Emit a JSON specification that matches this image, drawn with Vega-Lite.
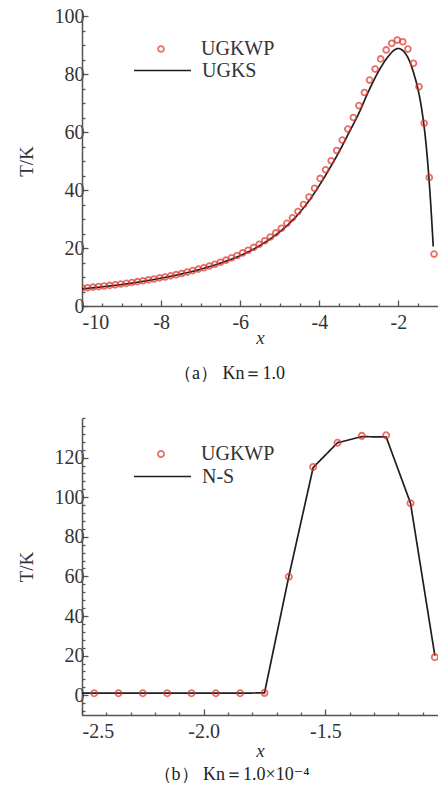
{
  "$schema": "https://vega.github.io/schema/vega-lite/v6.json",
  "padding": {"left": 17, "top": 6, "right": 0, "bottom": 0},
  "background": "white",
  "config": {
    "font": "Liberation Serif, Times New Roman, DejaVu Serif, serif",
    "view": {"stroke": null},
    "style": {
      "guide-label": {"font": "Liberation Serif, Times New Roman, DejaVu Serif, serif"},
      "guide-title": {"font": "Liberation Serif, Times New Roman, DejaVu Serif, serif"},
      "group-title": {"font": "Liberation Serif, Times New Roman, DejaVu Serif, serif"}
    },
    "axis": {
      "grid": false,
      "domainColor": "#555",
      "domainWidth": 1.5,
      "tickColor": "#555",
      "tickWidth": 1.3,
      "tickSize": -6,
      "labelFont": "Liberation Serif, Times New Roman, DejaVu Serif, serif",
      "labelFontSize": 20,
      "labelColor": "#333",
      "labelPadding": 4,
      "labelExpr": "replace(datum.label, '−', '-')",
      "titleFont": "Liberation Serif, Times New Roman, DejaVu Serif, serif",
      "titleFontSize": 19,
      "titleFontWeight": "normal",
      "titleColor": "#333"
    },
    "axisLeft": {"titlePadding": 18},
    "axisBottom": {"labelPadding": 12, "titlePadding": 0},
    "legend": {
      "labelFont": "Liberation Serif, Times New Roman, DejaVu Serif, serif",
      "labelFontSize": 20,
      "labelColor": "#333",
      "padding": 0,
      "title": null
    },
    "title": {
      "font": "Liberation Serif, Times New Roman, DejaVu Serif, serif",
      "fontSize": 18,
      "fontWeight": "normal",
      "color": "#222"
    }
  },
  "datasets": {
    "ugkwpA": [
      {"x": -10.0, "T": 6.2}, {"x": -9.86, "T": 6.3}, {"x": -9.72, "T": 6.5}, {"x": -9.58, "T": 6.7},
      {"x": -9.44, "T": 6.9}, {"x": -9.30, "T": 7.1}, {"x": -9.16, "T": 7.3}, {"x": -9.02, "T": 7.6},
      {"x": -8.88, "T": 7.8}, {"x": -8.74, "T": 8.1}, {"x": -8.60, "T": 8.4}, {"x": -8.46, "T": 8.7},
      {"x": -8.32, "T": 9.0}, {"x": -8.18, "T": 9.3}, {"x": -8.04, "T": 9.7}, {"x": -7.90, "T": 10.0},
      {"x": -7.76, "T": 10.4}, {"x": -7.62, "T": 10.8}, {"x": -7.48, "T": 11.2}, {"x": -7.34, "T": 11.7},
      {"x": -7.20, "T": 12.2}, {"x": -7.06, "T": 12.7}, {"x": -6.92, "T": 13.2}, {"x": -6.78, "T": 13.8},
      {"x": -6.64, "T": 14.4}, {"x": -6.50, "T": 15.1}, {"x": -6.36, "T": 15.8}, {"x": -6.22, "T": 16.6},
      {"x": -6.08, "T": 17.4}, {"x": -5.94, "T": 18.3}, {"x": -5.80, "T": 19.2}, {"x": -5.66, "T": 20.2},
      {"x": -5.52, "T": 21.3}, {"x": -5.38, "T": 22.5}, {"x": -5.24, "T": 23.8}, {"x": -5.10, "T": 25.2},
      {"x": -4.96, "T": 26.8}, {"x": -4.82, "T": 28.5}, {"x": -4.68, "T": 30.4}, {"x": -4.54, "T": 32.6},
      {"x": -4.40, "T": 35.0}, {"x": -4.26, "T": 37.6}, {"x": -4.12, "T": 40.6}, {"x": -3.98, "T": 44.0},
      {"x": -3.84, "T": 47.0}, {"x": -3.70, "T": 50.1}, {"x": -3.56, "T": 53.6}, {"x": -3.42, "T": 57.2},
      {"x": -3.28, "T": 61.0}, {"x": -3.14, "T": 65.0}, {"x": -3.00, "T": 69.1}, {"x": -2.86, "T": 73.6},
      {"x": -2.73, "T": 77.9}, {"x": -2.59, "T": 81.7}, {"x": -2.45, "T": 85.2}, {"x": -2.31, "T": 88.3},
      {"x": -2.17, "T": 90.6}, {"x": -2.03, "T": 91.7}, {"x": -1.89, "T": 91.1}, {"x": -1.76, "T": 88.6},
      {"x": -1.62, "T": 83.7}, {"x": -1.48, "T": 75.6}, {"x": -1.35, "T": 63.0}, {"x": -1.22, "T": 44.3},
      {"x": -1.10, "T": 17.9}
    ],
    "ugksA": [
      {"x": -10.0, "T": 5.9}, {"x": -9.5, "T": 6.6}, {"x": -9.0, "T": 7.4}, {"x": -8.5, "T": 8.4},
      {"x": -8.0, "T": 9.6}, {"x": -7.5, "T": 11.0}, {"x": -7.0, "T": 12.7}, {"x": -6.5, "T": 14.8},
      {"x": -6.0, "T": 17.4}, {"x": -5.5, "T": 20.9}, {"x": -5.0, "T": 25.6}, {"x": -4.75, "T": 28.6},
      {"x": -4.5, "T": 32.2}, {"x": -4.25, "T": 36.5}, {"x": -4.0, "T": 41.6}, {"x": -3.75, "T": 47.2},
      {"x": -3.5, "T": 53.2}, {"x": -3.25, "T": 59.8}, {"x": -3.0, "T": 66.5}, {"x": -2.75, "T": 74.2},
      {"x": -2.5, "T": 81.0}, {"x": -2.25, "T": 86.2}, {"x": -2.1, "T": 88.3}, {"x": -2.0, "T": 88.8},
      {"x": -1.9, "T": 88.2}, {"x": -1.8, "T": 86.6}, {"x": -1.7, "T": 83.8}, {"x": -1.6, "T": 79.6},
      {"x": -1.5, "T": 74.4}, {"x": -1.4, "T": 66.8}, {"x": -1.3, "T": 55.5}, {"x": -1.2, "T": 38.5},
      {"x": -1.12, "T": 20.5}
    ],
    "ugkwpB": [
      {"x": -2.45, "T": 1.0}, {"x": -2.35, "T": 1.0}, {"x": -2.25, "T": 1.0}, {"x": -2.15, "T": 1.0},
      {"x": -2.05, "T": 1.0}, {"x": -1.95, "T": 1.0}, {"x": -1.85, "T": 1.0}, {"x": -1.75, "T": 1.2},
      {"x": -1.65, "T": 59.8}, {"x": -1.55, "T": 115.3}, {"x": -1.45, "T": 127.5}, {"x": -1.35, "T": 131.0},
      {"x": -1.25, "T": 131.3}, {"x": -1.15, "T": 97.0}, {"x": -1.05, "T": 19.2}
    ],
    "nsB": [
      {"x": -2.5, "T": 1.0}, {"x": -2.45, "T": 1.0}, {"x": -2.35, "T": 1.0}, {"x": -2.25, "T": 1.0},
      {"x": -2.15, "T": 1.0}, {"x": -2.05, "T": 1.0}, {"x": -1.95, "T": 1.0}, {"x": -1.85, "T": 1.0},
      {"x": -1.75, "T": 1.2}, {"x": -1.65, "T": 60.0}, {"x": -1.55, "T": 115.0}, {"x": -1.45, "T": 127.5},
      {"x": -1.35, "T": 130.6}, {"x": -1.25, "T": 130.4}, {"x": -1.15, "T": 97.0}, {"x": -1.05, "T": 20.0}
    ]
  },
  "resolve": {
    "scale": {"shape": "independent", "strokeDash": "independent"},
    "legend": {"shape": "independent", "strokeDash": "independent"}
  },
  "spacing": 34,
  "vconcat": [
    {
      "width": 356,
      "height": 290,
      "title": {"text": "（a） Kn＝1.0", "orient": "bottom", "anchor": "middle", "frame": "bounds", "dx": 2, "offset": 18},
      "resolve": {"axis": {"x": "independent", "y": "independent"}},
      "layer": [
        {
          "data": {"name": "ugksA"},
          "mark": {"type": "line", "color": "#1e1e1e", "strokeWidth": 1.7, "interpolate": "monotone", "clip": true},
          "encoding": {
            "x": {"field": "x", "type": "quantitative", "scale": {"domain": [-10, -1], "nice": false, "zero": false},
              "axis": {"orient": "bottom", "values": [-9.5, -9, -8.5, -7.5, -7, -6.5, -5.5, -5, -4.5, -3.5, -3, -2.5, -1.5], "labels": false, "domain": false, "tickSize": -3, "title": null}},
            "y": {"field": "T", "type": "quantitative", "scale": {"domain": [0, 100], "nice": false, "zero": false},
              "axis": {"orient": "left", "values": [5, 10, 15, 25, 30, 35, 45, 50, 55, 65, 70, 75, 85, 90, 95], "labels": false, "domain": false, "tickSize": -3, "title": null}},
            "strokeDash": {"datum": "UGKS", "scale": {"range": [[1, 0]]},
              "legend": {"orient": "none", "legendX": 51, "legendY": 25, "symbolType": "stroke", "symbolSize": 3249, "symbolStrokeWidth": 1.7, "symbolStrokeColor": "#1e1e1e", "labelOffset": 10}}
          }
        },
        {
          "data": {"name": "ugkwpA"},
          "mark": {"type": "point", "shape": "circle", "filled": false, "color": "#e0322a", "size": 34, "strokeWidth": 1.8, "clip": true},
          "encoding": {
            "x": {"field": "x", "type": "quantitative",
              "axis": {"orient": "bottom", "values": [-10, -8, -6, -4, -2], "title": "x", "titleFontStyle": "italic", "titlePadding": -4}},
            "y": {"field": "T", "type": "quantitative",
              "axis": {"orient": "left", "values": [0, 20, 40, 60, 80, 100], "title": "T/K"}},
            "shape": {"datum": "UGKWP", "scale": {"range": ["circle"]},
              "legend": {"orient": "none", "legendX": 69, "legendY": 23, "symbolSize": 34, "symbolStrokeWidth": 1.8, "symbolStrokeColor": "#e0322a", "symbolFillColor": "transparent", "labelOffset": 30}}
          }
        }
      ]
    },
    {
      "width": 356,
      "height": 297,
      "title": {"text": "（b） Kn＝1.0×10⁻⁴", "orient": "bottom", "anchor": "middle", "frame": "bounds", "dx": 4, "offset": 6},
      "resolve": {"axis": {"x": "independent", "y": "independent"}},
      "layer": [
        {
          "data": {"name": "nsB"},
          "mark": {"type": "line", "color": "#1e1e1e", "strokeWidth": 1.7, "clip": true},
          "encoding": {
            "x": {"field": "x", "type": "quantitative", "scale": {"domain": [-2.5, -1.037], "nice": false, "zero": false},
              "axis": {"orient": "bottom", "values": [-2.4, -2.3, -2.2, -2.1, -1.9, -1.8, -1.7, -1.6, -1.4, -1.3, -1.2, -1.1], "labels": false, "domain": false, "tickSize": -3, "title": null}},
            "y": {"field": "T", "type": "quantitative", "scale": {"domain": [-10, 140], "nice": false, "zero": false},
              "axis": {"orient": "left", "values": [-8, -4, 4, 8, 12, 16, 24, 28, 32, 36, 44, 48, 52, 56, 64, 68, 72, 76, 84, 88, 92, 96, 104, 108, 112, 116, 124, 128, 132, 136, 140], "labels": false, "domain": false, "tickSize": -3, "title": null}},
            "strokeDash": {"datum": "N-S", "scale": {"range": [[1, 0]]},
              "legend": {"orient": "none", "legendX": 51, "legendY": 29, "symbolType": "stroke", "symbolSize": 3249, "symbolStrokeWidth": 1.7, "symbolStrokeColor": "#1e1e1e", "labelOffset": 10}}
          }
        },
        {
          "data": {"name": "ugkwpB"},
          "mark": {"type": "point", "shape": "circle", "filled": false, "color": "#e0322a", "size": 38, "strokeWidth": 1.8, "clip": true},
          "encoding": {
            "x": {"field": "x", "type": "quantitative",
              "axis": {"orient": "bottom", "values": [-2.5, -2.0, -1.5], "format": ".1f", "title": "x", "titleFontStyle": "italic"}},
            "y": {"field": "T", "type": "quantitative",
              "axis": {"orient": "left", "values": [0, 20, 40, 60, 80, 100, 120], "title": "T/K"}},
            "shape": {"datum": "UGKWP", "scale": {"range": ["circle"]},
              "legend": {"orient": "none", "legendX": 69, "legendY": 26, "symbolSize": 38, "symbolStrokeWidth": 1.8, "symbolStrokeColor": "#e0322a", "symbolFillColor": "transparent", "labelOffset": 30}}
          }
        }
      ]
    }
  ]
}
